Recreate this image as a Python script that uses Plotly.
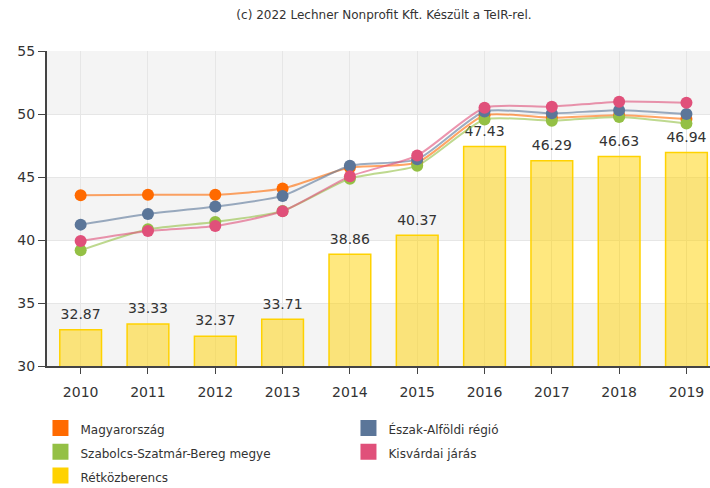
import plotly.graph_objects as go

years = ["2010", "2011", "2012", "2013", "2014", "2015", "2016", "2017", "2018", "2019"]

retkozberencs = [32.87, 33.33, 32.37, 33.71, 38.86, 40.37, 47.43, 46.29, 46.63, 46.94]
magyarorszag = [43.55, 43.6, 43.6, 44.08, 45.75, 46.15, 49.9, 49.7, 49.9, 49.6]
szabolcs = [39.18, 40.85, 41.43, 42.3, 44.87, 45.9, 49.57, 49.47, 49.77, 49.25]
eszak_alfold = [41.22, 42.06, 42.65, 43.5, 45.9, 46.4, 50.2, 50.05, 50.3, 50.0]
kisvarda = [39.92, 40.71, 41.11, 42.28, 45.05, 46.7, 50.5, 50.58, 50.98, 50.89]

names = {
    "hu": "Magyarország",
    "ea": "Észak-Alföldi régió",
    "sz": "Szabolcs-Szatmár-Bereg megye",
    "ki": "Kisvárdai járás",
    "re": "Rétközberencs",
}
colors = {
    "hu": "#FF6A00",
    "ea": "#5B7699",
    "sz": "#94C045",
    "ki": "#E0507A",
    "re": "#FFD200",
}

FONT = "DejaVu Sans, Verdana, sans-serif"

fig = go.Figure()

fig.add_trace(go.Bar(
    x=years, y=retkozberencs, name=names["re"], showlegend=False,
    marker=dict(color="rgba(255,210,0,0.5)", line=dict(color="#FFD200", width=1.5)),
    width=0.62,
    hoverinfo="x+y",
))

# value labels above the bars
fig.add_trace(go.Scatter(
    x=years, y=retkozberencs, mode="markers+text", showlegend=False,
    text=[f"{v:.2f}" for v in retkozberencs], textposition="top center",
    textfont=dict(size=14, color="#333333", family=FONT),
    marker=dict(size=10, color="rgba(0,0,0,0)"),
    hoverinfo="skip", cliponaxis=False,
))

line_series = [
    ("hu", magyarorszag),
    ("sz", szabolcs),
    ("ea", eszak_alfold),
    ("ki", kisvarda),
]
for key, vals in line_series:
    fig.add_trace(go.Scatter(
        x=years, y=vals, name=names[key], showlegend=False,
        mode="lines", line=dict(color=colors[key], width=2, shape="spline", smoothing=0.6),
        opacity=0.6, hoverinfo="skip",
    ))
    fig.add_trace(go.Scatter(
        x=years, y=vals, name=names[key], showlegend=False,
        mode="markers", marker=dict(color=colors[key], size=12),
    ))

# legend entries (square swatches); the legend font sets the row height,
# the span sets the visible text size
for key in ["hu", "ea", "sz", "ki", "re"]:
    fig.add_trace(go.Scatter(
        x=[None], y=[None],
        name=f'<span style="font-size:12px">{names[key]}</span>',
        mode="markers",
        marker=dict(color=colors[key], symbol="square", size=18),
        showlegend=True,
    ))

# alternating background bands
for y0, y1 in [(50, 55), (40, 45), (30, 35)]:
    fig.add_shape(type="rect", xref="paper", yref="y", x0=0, x1=1, y0=y0, y1=y1,
                  fillcolor="#F4F4F4", line=dict(width=0), layer="below")

fig.update_layout(
    width=710, height=488,
    margin=dict(l=47, r=0, t=51, b=122),
    paper_bgcolor="white", plot_bgcolor="white",
    font=dict(family=FONT, color="#333333"),
    title=dict(text="(c) 2022 Lechner Nonprofit Kft. Készült a TeIR-rel.",
               x=0.5408, xanchor="center", xref="container",
               y=0.9693, yanchor="middle", yref="container",
               font=dict(size=12, color="#333333", family=FONT)),
    legend=dict(orientation="h", x=0.057, xanchor="left", xref="container",
                y=0.1578, yanchor="top", yref="container",
                entrywidth=263, entrywidthmode="pixels",
                font=dict(size=16, color="#333333", family=FONT),
                tracegroupgap=0, itemsizing="trace"),
    showlegend=True,
    bargap=0.38,
)

fig.update_xaxes(
    type="category", range=[-0.5, 9.35],
    showgrid=True, gridcolor="#E6E6E6", gridwidth=1,
    showline=True, linecolor="#444444", linewidth=2,
    ticks="outside", ticklen=6, tickcolor="#444444",
    ticklabelstandoff=6,
    tickfont=dict(size=14, color="#333333", family=FONT),
    fixedrange=True, automargin=False,
)
fig.update_yaxes(
    range=[30, 55], dtick=5, tick0=30,
    showgrid=True, gridcolor="#E6E6E6", gridwidth=1,
    showline=True, linecolor="#444444", linewidth=2,
    ticks="outside", ticklen=7, tickcolor="#444444",
    tickfont=dict(size=14, color="#333333", family=FONT),
    zeroline=False, fixedrange=True, automargin=False,
)

fig.write_html(
    "out.html",
    config={"displayModeBar": False},
    post_script=(
        "document.body.style.margin='0';"
        "document.body.style.overflow='hidden';"
        "document.documentElement.style.overflow='hidden';"
    ),
)
